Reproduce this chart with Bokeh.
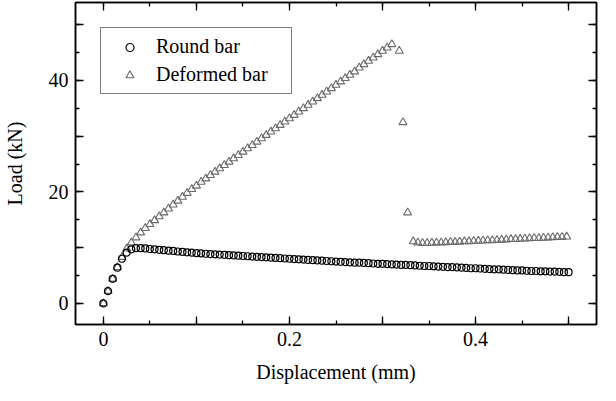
from bokeh.plotting import figure
from bokeh.models import (LinearAxis, SingleIntervalTicker, CustomJSTickFormatter,
                          Range1d, Legend, LegendItem)
from bokeh.embed import file_html
from bokeh.resources import INLINE

# ---- data ----
round_x = [0.000, 0.005, 0.010, 0.015, 0.020, 0.025, 0.030, 0.035, 0.040, 0.045,
           0.050, 0.055, 0.060, 0.065, 0.070, 0.075, 0.080, 0.085, 0.090, 0.095,
           0.100, 0.105, 0.110, 0.115, 0.120, 0.125, 0.130, 0.135, 0.140, 0.145,
           0.150, 0.155, 0.160, 0.165, 0.170, 0.175, 0.180, 0.185, 0.190, 0.195,
           0.200, 0.205, 0.210, 0.215, 0.220, 0.225, 0.230, 0.235, 0.240, 0.245,
           0.250, 0.255, 0.260, 0.265, 0.270, 0.275, 0.280, 0.285, 0.290, 0.295,
           0.300, 0.305, 0.310, 0.315, 0.320, 0.325, 0.330, 0.335, 0.340, 0.345,
           0.350, 0.355, 0.360, 0.365, 0.370, 0.375, 0.380, 0.385, 0.390, 0.395,
           0.400, 0.405, 0.410, 0.415, 0.420, 0.425, 0.430, 0.435, 0.440, 0.445,
           0.450, 0.455, 0.460, 0.465, 0.470, 0.475, 0.480, 0.485, 0.490, 0.495,
           0.500]
round_y = [0.0, 2.2, 4.4, 6.4, 8.0, 9.1, 9.7, 9.9, 9.9, 9.85,
           9.75, 9.7, 9.6, 9.55, 9.45, 9.4, 9.3, 9.25, 9.15, 9.1,
           9.0, 8.95, 8.9, 8.85, 8.8, 8.75, 8.7, 8.65, 8.6, 8.55,
           8.5, 8.45, 8.4, 8.35, 8.3, 8.25, 8.2, 8.15, 8.1, 8.05,
           8.0, 7.95, 7.9, 7.85, 7.8, 7.75, 7.7, 7.65, 7.6, 7.55,
           7.5, 7.45, 7.4, 7.35, 7.3, 7.3, 7.25, 7.2, 7.15, 7.1,
           7.1, 7.05, 7.0, 6.95, 6.9, 6.9, 6.85, 6.8, 6.75, 6.7,
           6.7, 6.65, 6.6, 6.55, 6.5, 6.5, 6.45, 6.4, 6.35, 6.3,
           6.3, 6.25, 6.2, 6.15, 6.1, 6.1, 6.05, 6.0, 5.95, 5.9,
           5.9, 5.85, 5.8, 5.8, 5.75, 5.75, 5.7, 5.7, 5.65, 5.6,
           5.6]

deformed_x = [0.000, 0.005, 0.010, 0.015, 0.020, 0.025, 0.030, 0.035, 0.040, 0.045,
              0.050, 0.055, 0.060, 0.065, 0.070, 0.075, 0.080, 0.085, 0.090, 0.095,
              0.100, 0.105, 0.110, 0.115, 0.120, 0.125, 0.130, 0.135, 0.140, 0.145,
              0.150, 0.155, 0.160, 0.165, 0.170, 0.175, 0.180, 0.185, 0.190, 0.195,
              0.200, 0.205, 0.210, 0.215, 0.220, 0.225, 0.230, 0.235, 0.240, 0.245,
              0.250, 0.255, 0.260, 0.265, 0.270, 0.275, 0.280, 0.285, 0.290, 0.295,
              0.300, 0.305, 0.310, 0.318, 0.322, 0.327,
              0.333, 0.338, 0.343, 0.348, 0.353, 0.358, 0.363, 0.368, 0.373, 0.378,
              0.383, 0.388, 0.393, 0.398, 0.403, 0.408, 0.413, 0.418, 0.423, 0.428,
              0.433, 0.438, 0.443, 0.448, 0.453, 0.458, 0.463, 0.468, 0.473, 0.478,
              0.483, 0.488, 0.493, 0.498]
deformed_y = [0.0, 2.2, 4.4, 6.5, 8.3, 9.8, 10.9, 11.8, 12.7, 13.5,
              14.2, 14.9, 15.6, 16.3, 17.0, 17.7, 18.4, 19.1, 19.8, 20.5,
              21.1, 21.8, 22.4, 23.0, 23.6, 24.2, 24.8, 25.4, 26.0, 26.6,
              27.2, 27.8, 28.4, 29.0, 29.6, 30.2, 30.8, 31.4, 32.0, 32.6,
              33.2, 33.8, 34.4, 35.0, 35.6, 36.2, 36.8, 37.4, 38.0, 38.6,
              39.2, 39.8, 40.4, 41.0, 41.6, 42.3, 42.9, 43.5, 44.1, 44.7,
              45.3, 45.9, 46.5, 45.3, 32.5, 16.3,
              11.1, 10.9, 10.8, 10.8, 10.85, 10.9, 10.9, 10.95, 11.0, 11.0,
              11.05, 11.1, 11.1, 11.15, 11.2, 11.25, 11.3, 11.3, 11.35, 11.4,
              11.45, 11.5, 11.5, 11.55, 11.6, 11.65, 11.7, 11.7, 11.75, 11.8,
              11.85, 11.9, 11.9, 11.95]

series_labels = ["Round bar", "Deformed bar"]
x_title = "Displacement (mm)"
y_title = "Load (kN)"

FONT = "Liberation Serif"

p = figure(width=600, height=385, output_backend="svg", toolbar_location=None,
           x_range=Range1d(-0.03, 0.53), y_range=Range1d(-3.8, 54),
           min_border_left=75, min_border_right=4, min_border_top=2,
           min_border_bottom=55)
p.xgrid.visible = False
p.ygrid.visible = False
p.outline_line_color = "black"
p.outline_line_width = 1.5
p.background_fill_color = "white"
p.border_fill_color = "white"

xfmt = CustomJSTickFormatter(code="""
const r = Math.round(tick*10);
if (r % 2 != 0) return '';
return r == 0 ? '0' : (r/10).toFixed(1);
""")
yfmt = CustomJSTickFormatter(code="""
const r = Math.round(tick);
return (r % 20 == 0) ? r.toString() : '';
""")
blank = CustomJSTickFormatter(code="return '';")


def style(ax):
    ax.axis_line_color = "black"
    ax.axis_line_width = 1.5
    ax.major_tick_in = 8
    ax.major_tick_out = 0
    ax.minor_tick_in = 4
    ax.minor_tick_out = 0
    ax.major_tick_line_color = "black"
    ax.minor_tick_line_color = "black"
    ax.major_tick_line_width = 1.3
    ax.minor_tick_line_width = 1.3
    ax.major_label_text_font = FONT
    ax.major_label_text_font_size = "20px"
    ax.major_label_text_color = "black"
    ax.axis_label_text_font = FONT
    ax.axis_label_text_font_size = "20px"
    ax.axis_label_text_font_style = "normal"
    ax.axis_label_text_color = "black"


xa = p.xaxis[0]
xa.ticker = SingleIntervalTicker(interval=0.1, num_minor_ticks=2)
xa.formatter = xfmt
style(xa)
xa.major_label_standoff = 7
xa.axis_label = x_title
xa.axis_label_standoff = 12

ya = p.yaxis[0]
ya.ticker = SingleIntervalTicker(interval=10, num_minor_ticks=2)
ya.formatter = yfmt
style(ya)
ya.major_label_standoff = 7
ya.major_label_orientation = "horizontal"
ya.axis_label = y_title
ya.axis_label_standoff = 20

top = LinearAxis(ticker=SingleIntervalTicker(interval=0.1, num_minor_ticks=2),
                 formatter=blank)
style(top)
top.major_label_text_font_size = "0px"
top.major_label_standoff = 0
p.add_layout(top, "above")

right = LinearAxis(ticker=SingleIntervalTicker(interval=10, num_minor_ticks=2),
                   formatter=blank, y_range_name="default")
style(right)
right.major_label_text_font_size = "0px"
right.major_label_standoff = 0
p.add_layout(right, "right")

r_def = p.scatter(x=deformed_x, y=deformed_y, marker="triangle", size=8,
                  line_color="#6a6a6a", line_width=1.1, fill_alpha=0)
r_round = p.scatter(x=round_x, y=round_y, marker="circle", size=7,
                    line_color="black", line_width=1.2, fill_alpha=0)

legend = Legend(items=[LegendItem(label=series_labels[0], renderers=[r_round]),
                       LegendItem(label=series_labels[1], renderers=[r_def])],
                location="top_left")
legend.margin = 25
legend.padding = 7
legend.spacing = 5
legend.glyph_width = 43
legend.glyph_height = 20
legend.label_height = 20
legend.label_width = 128
legend.label_standoff = 5
legend.label_text_font = FONT
legend.label_text_font_size = "20px"
legend.label_text_color = "black"
legend.border_line_color = "black"
legend.border_line_width = 1.5
legend.background_fill_color = "white"
legend.background_fill_alpha = 1.0
p.add_layout(legend, "center")

open("out.html", "w").write(file_html(p, INLINE))
